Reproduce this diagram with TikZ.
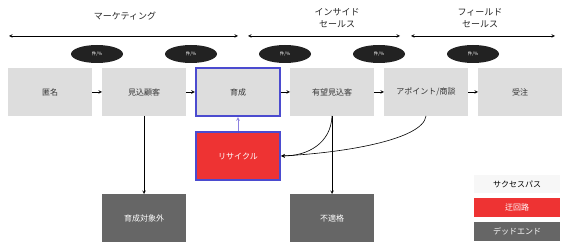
\documentclass[tikz,border=0pt]{standalone}
\usepackage{fontspec}
\setmainfont{Noto Sans CJK JP}
\usepackage{xcolor}
\usetikzlibrary{shapes.geometric, arrows, positioning, calc}

\definecolor{stagegray}{HTML}{DDDDDD}
\definecolor{loopred}{HTML}{EE3333}
\definecolor{loopblue}{HTML}{4B4BCF}
\definecolor{deadgray}{HTML}{666666}
\definecolor{ratefill}{HTML}{222222}
\definecolor{backlink}{HTML}{8C80E0}

\begin{document}
\begin{tikzpicture}[
    x=1pt, y=1pt,
    node distance=10pt,
    stage/.style={rectangle, fill=stagegray, text=black!80, minimum width=84pt, minimum height=48pt, inner sep=0pt, outer sep=0pt, font=\fontsize{8}{9}\selectfont},
    focus/.style={stage, draw=loopblue, line width=2.4pt},
    detour/.style={focus, fill=loopred, text=white},
    dead/.style={stage, fill=deadgray, text=white},
    rate/.style={ellipse, fill=ratefill, text=white, minimum width=52pt, minimum height=18pt, inner sep=0pt, font=\fontsize{4.5}{5}\selectfont},
    phase/.style={align=center, font=\fontsize{9}{12}\selectfont, text=black!85},
    legend/.style={rectangle, minimum width=86pt, minimum height=18.5pt, inner sep=0pt, font=\fontsize{8}{9}\selectfont},
    arrow/.style={->,>=stealth, semithick},
    span/.style={<->,>=stealth, semithick},
    tofocus/.style={shorten >=1.2pt},
    fromfocus/.style={shorten <=1.2pt}
]
\useasboundingbox (0,0) rectangle (567,248);

% Stages
\node [stage] (tokumei) at (50,156) {匿名};
\node [stage, right=of tokumei] (mikomi) {見込顧客};
\node [focus, right=of mikomi] (ikusei) {育成};
\node [stage, right=of ikusei] (yuubou) {有望見込客};
\node [stage, right=of yuubou] (apo) {アポイント/商談};
\node [stage, right=of apo] (juchu) {受注};

% Side paths
\node [detour, below=16pt of ikusei] (recycle) {リサイクル};
\node [dead, below=78pt of mikomi] (taishogai) {育成対象外};
\node [dead, below=78pt of yuubou] (futekikaku) {不適格};

% Conversion rates
\foreach \a/\b [count=\i] in {tokumei/mikomi, mikomi/ikusei, ikusei/yuubou, yuubou/apo, apo/juchu}
    \node [rate] (rate\i) at ($(\a.north east)!.5!(\b.north west)+(0,14)$) {件/\%};

% Phases
\coordinate (mkt west) at (9,212);
\coordinate (mkt east) at (238,212);
\coordinate (is west) at (248,212);
\coordinate (is east) at (400,212);
\coordinate (fs west) at (411,212);
\coordinate (fs east) at (555,212);
\draw [span] (mkt west) -- (mkt east);
\draw [span] (is west) -- (is east);
\draw [span] (fs west) -- (fs east);
\node [phase] (mktlabel) at (125,232) {マーケティング};
\node [phase] (islabel) at (337,230) {インサイド\\セールス};
\node [phase] (fslabel) at (480,230) {フィールド\\セールス};

% Arrows
\draw [arrow] (tokumei) -- (mikomi);
\draw [arrow, tofocus] (mikomi) -- (ikusei);
\draw [arrow, fromfocus] (ikusei) -- (yuubou);
\draw [arrow] (yuubou) -- (apo);
\draw [arrow] (apo) -- (juchu);
\draw [arrow] (mikomi) -- (taishogai);
\draw [arrow] (yuubou) -- (futekikaku);
\draw [arrow, backlink, tofocus, fromfocus] (recycle) -- (ikusei);
\draw [arrow, tofocus] (yuubou.south) .. controls +(-1,-27) and +(28,0) .. (recycle.east);
\draw [arrow, tofocus] (apo.south) .. controls +(-3,-24) and +(62,3) .. (recycle.east);

% Legend
\node [legend, fill=black!3] (lgsuccess) at (517,64) {サクセスパス};
\node [legend, fill=loopred, text=white] (lgdetour) at (517,40.5) {迂回路};
\node [legend, fill=deadgray, text=white] (lgdead) at (517,16.5) {デッドエンド};

\end{tikzpicture}
\end{document}
